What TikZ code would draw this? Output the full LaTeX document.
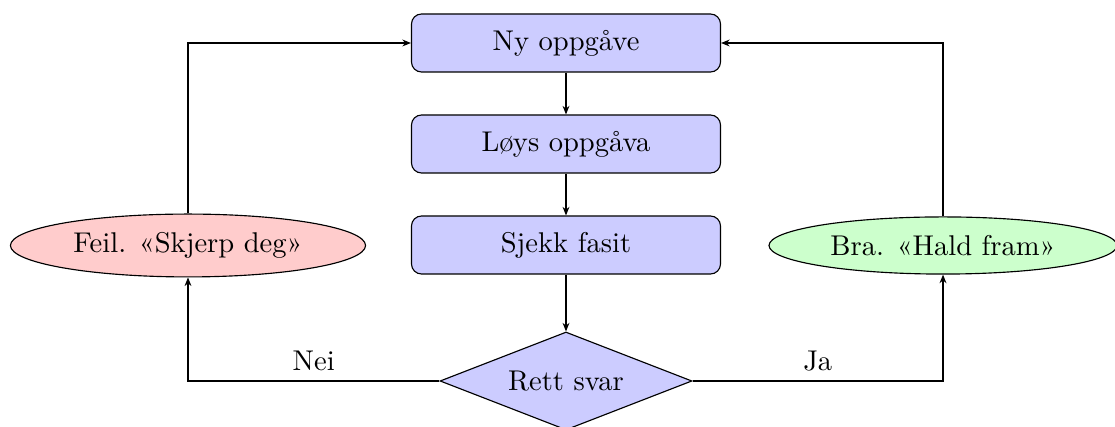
\documentclass[tikz,border=0pt]{standalone}
\usetikzlibrary{shapes.geometric,arrows.meta}
\begin{document}
\begin{tikzpicture}[x=0.35pt,y=-0.35pt,
  stepbox/.style={draw,rounded corners=3.5pt,fill=blue!20,minimum width=108.15pt,minimum height=20.3pt,inner sep=0pt},
  decbox/.style={draw,diamond,aspect=2.57,fill=blue!20,minimum width=88.2pt,minimum height=34.3pt,inner sep=0pt},
  badbox/.style={draw,ellipse,fill=red!20,inner sep=0pt},
  goodbox/.style={draw,ellipse,fill=green!20,inner sep=0pt},
  conn/.style={-{Stealth[length=3pt,width=2.4pt]}}]
\useasboundingbox (0,0) rectangle (1115,427);
\node[stepbox] (ny) at (566,43) {Ny oppgåve};
\node[stepbox] (loys) at (566,144) {Løys oppgåva};
\node[stepbox] (sjekk) at (566,245) {Sjekk fasit};
\node[decbox] (rett) at (566,381) {Rett svar};
\node[badbox,minimum width=124.3pt,minimum height=22pt] (feil) at (188,245.5) {Feil. «Skjerp deg»};
\node[goodbox,minimum width=121.8pt,minimum height=20pt] (bra) at (943,245.5) {Bra. «Hald fram»};
\draw[conn] (ny) -- (loys);
\draw[conn] (loys) -- (sjekk);
\draw[conn] (sjekk) -- (rett);
\draw[conn] (rett.west) -- node[above]{Nei} (rett.west -| feil.south) -- (feil.south);
\draw[conn] (rett.east) -- node[above]{Ja} (rett.east -| bra.south) -- (bra.south);
\draw[conn] (feil.north) |- (ny.west);
\draw[conn] (bra.north) |- (ny.east);
\end{tikzpicture}
\end{document}
